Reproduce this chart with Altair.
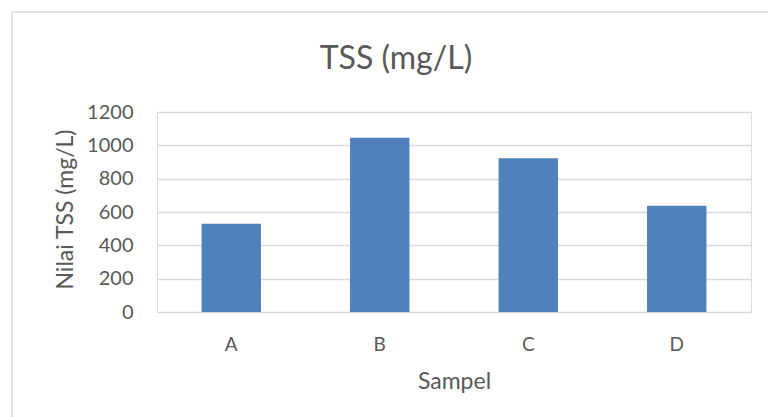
import altair as alt
import pandas as pd

categories = ["A", "B", "C", "D"]
values = [530, 1045, 922, 638]
y_ticks = [0, 200, 400, 600, 800, 1000, 1200]

df = pd.DataFrame({"Sampel": categories, "TSS": values})

FONT = "Lato"
TEXT = "#595959"

bars = alt.Chart(df).mark_bar(color="#4F81BD").encode(
    x=alt.X(
        "Sampel:N",
        sort=categories,
        scale=alt.Scale(paddingInner=0.6, paddingOuter=0.3),
        axis=alt.Axis(
            title="Sampel",
            labelAngle=0,
            labelFont=FONT,
            labelFontSize=19,
            labelColor=TEXT,
            labelBaseline="alphabetic",
            labelPadding=38,
            ticks=False,
            tickSize=0,
            domain=False,
            grid=False,
            titleFont=FONT,
            titleFontSize=23,
            titleFontWeight="normal",
            titleColor=TEXT,
            titleBaseline="alphabetic",
            titleY=76,
        ),
    ),
    y=alt.Y(
        "TSS:Q",
        scale=alt.Scale(domain=[0, 1200], nice=False),
        axis=alt.Axis(
            title="Nilai TSS (mg/L)",
            values=y_ticks,
            format="d",
            labelFont=FONT,
            labelFontSize=20,
            labelColor=TEXT,
            labelPadding=24,
            ticks=False,
            tickSize=0,
            domain=False,
            grid=True,
            gridColor="#D9D9D9",
            gridWidth=1.5,
            titleFont=FONT,
            titleFontSize=23,
            titleFontWeight="normal",
            titleColor=TEXT,
            titleAngle=-90,
            titleAlign="center",
            titleBaseline="middle",
            titleX=-92,
            titleY=97,
        ),
    ),
)

border = alt.Chart(pd.DataFrame({"b": [0]})).mark_rect(
    fill=None, stroke="#D9D9D9", strokeWidth=1.5
).encode(
    x=alt.value(-145), x2=alt.value(640), y=alt.value(-100), y2=alt.value(330)
)

chart = alt.layer(border, bars).properties(
    width=594,
    height=200,
    title=alt.Title(
        "TSS (mg/L)",
        font=FONT,
        fontSize=32,
        fontWeight="normal",
        color=TEXT,
        anchor="middle",
        frame="group",
        dx=-58,
        baseline="alphabetic",
        offset=-90,
    ),
    autosize=alt.AutoSizeParams(type="none"),
    padding={"left": 157, "top": 112, "right": 17, "bottom": 105},
).configure_view(stroke=None).configure(background="white")

chart.save("out.html", embed_options={"renderer": "svg", "actions": False})
